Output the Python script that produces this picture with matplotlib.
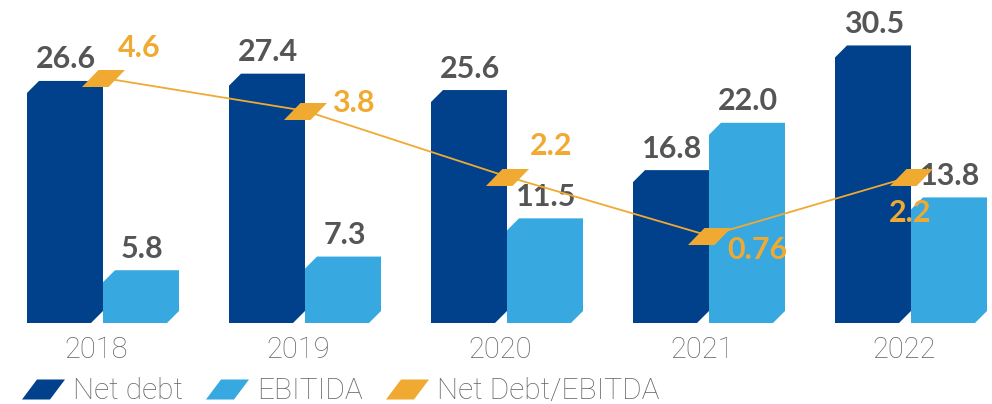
import matplotlib
matplotlib.use("Agg")
import matplotlib.pyplot as plt
import numpy as np
from matplotlib.patches import Polygon
from matplotlib.lines import Line2D

years = ["2018", "2019", "2020", "2021", "2022"]
net_debt = [26.6, 27.4, 25.6, 16.8, 30.5]
ebitda = [5.8, 7.3, 11.5, 22.0, 13.8]
ratio = [4.6, 3.8, 2.2, 0.76, 2.2]
ratio_labels = ["4.6", "3.8", "2.2", "0.76", "2.2"]

DARK = "#01418C"
LIGHT = "#37A9E0"
ORANGE = "#F0AA31"
GREY = "#555555"
TICKGREY = "#666666"

plt.rcParams['font.family'] = ['Lato', 'DejaVu Sans']
THIN = ['Roboto', 'DejaVu Sans']

W, H = 992, 404
fig = plt.figure(figsize=(W / 100, H / 100), dpi=100)
ax = fig.add_axes([0, 81 / H, 1, 323 / H])
ax.set_xlim(-103 / 202, (W - 103) / 202)
ax.set_ylim(0, 323 / 9.1)
for s in ax.spines.values():
    s.set_visible(False)
ax.set_yticks([])

x = np.arange(len(years))
bw = 76 / 202
b1 = ax.bar(x - bw / 2, net_debt, bw, color=DARK)
b2 = ax.bar(x + bw / 2, ebitda, bw, color=LIGHT)

# chamfer size in data units (12 px)
inv = ax.transData.inverted()
p0 = ax.transData.transform((0, 0))
cdx, cdy = inv.transform(p0 + np.array([12, 12])) - inv.transform(p0)

for bars, col in ((b1, DARK), (b2, LIGHT)):
    for r in bars:
        x0, y0, w, h = r.get_x(), r.get_y(), r.get_width(), r.get_height()
        r.set_visible(False)
        verts = [(x0, y0), (x0 + w - cdx, y0), (x0 + w, y0 + cdy), (x0 + w, y0 + h),
                 (x0 + cdx, y0 + h), (x0, y0 + h - cdy)]
        ax.add_patch(Polygon(verts, closed=True, facecolor=col, edgecolor='none', zorder=2))

lab_kw = dict(textcoords='offset points', ha='center', va='baseline',
              fontsize=22, fontweight='bold', color=GREY, zorder=5)
for i, v in enumerate(net_debt):
    ax.annotate(f"{v:.1f}", (x[i] - bw / 2, v), xytext=(1, 9), **lab_kw)
for i, v in enumerate(ebitda):
    ax.annotate(f"{v:.1f}", (x[i] + bw / 2, v), xytext=(1, 9), **lab_kw)

ax.set_xticks(x - 7 / 202)
ax.set_xticklabels(years)
ax.tick_params(axis='x', length=0, pad=9, labelsize=21, labelcolor=TICKGREY)
for t in ax.get_xticklabels():
    t.set_fontweight('light')
    t.set_family(THIN)

# ratio axis
ax2 = ax.twinx()
ax2.set_ylim(-56 / 41.1, 267 / 41.1)
ax2.set_yticks([])
for s in ax2.spines.values():
    s.set_visible(False)

para = [(-21.5, -8.5), (5, -8.5), (21.5, 8.5), (-5, 8.5), (-21.5, -8.5)]
ax2.plot(x, ratio, color=ORANGE, lw=1.3, zorder=3)
ax2.plot(x, ratio, linestyle='none', marker=para, markersize=31,
         markerfacecolor=ORANGE, markeredgecolor='none', zorder=4)

offs = [(36, -30), (48, -8), (44, -31), (48, 14), (-1, 36)]
for i, v in enumerate(ratio):
    dx, dy = offs[i]
    ax2.annotate(ratio_labels[i], (x[i], v), xytext=(dx * 0.72, -dy * 0.72),
                 textcoords='offset points', ha='center', va='center',
                 fontsize=22, fontweight='bold', color=ORANGE, zorder=6)

lpara = [(-21.5, -10), (6.5, -10), (21.5, 10), (-6.5, 10), (-21.5, -10)]
handles = [
    Line2D([], [], linestyle='none', marker=lpara, markersize=31, markerfacecolor=DARK, markeredgecolor='none'),
    Line2D([], [], linestyle='none', marker=lpara, markersize=31, markerfacecolor=LIGHT, markeredgecolor='none'),
    Line2D([], [], linestyle='none', marker=lpara, markersize=31, markerfacecolor=ORANGE, markeredgecolor='none'),
]
leg = fig.legend(handles, ["Net debt", "EBITIDA", "Net Debt/EBITDA"], loc='center left',
                 bbox_to_anchor=(21 / W, 1 - 391 / H), ncol=3, frameon=False,
                 borderpad=0, borderaxespad=0, handlelength=1.47, handletextpad=0.27,
                 columnspacing=0.74, prop=dict(size=21.5, weight='light', family=THIN))
for t in leg.get_texts():
    t.set_color(TICKGREY)

fig.savefig("out.png", dpi=100)
